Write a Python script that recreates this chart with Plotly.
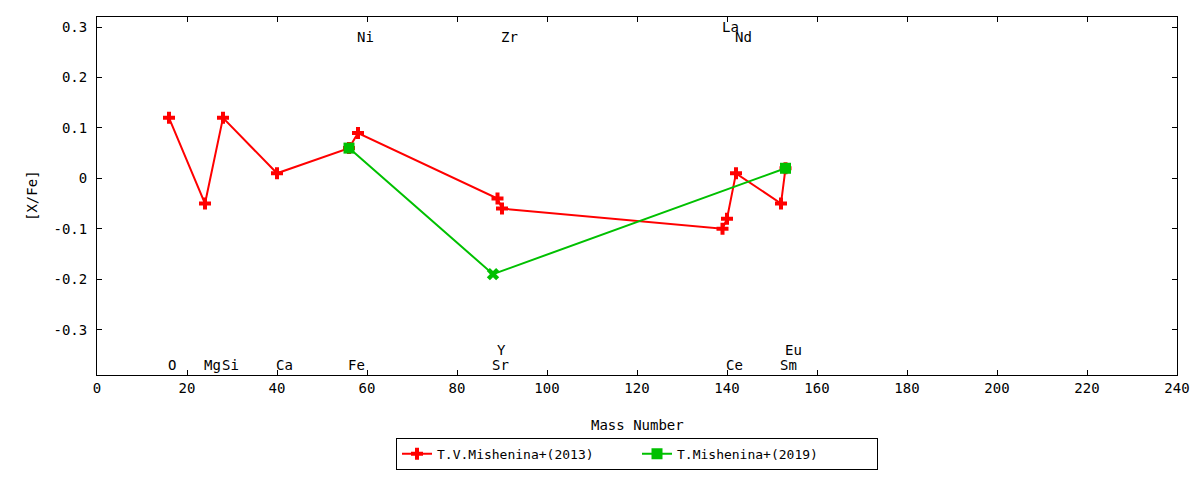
import plotly.graph_objects as go

# [X/Fe] vs mass number
mass_2013 = [16, 24, 28, 40, 56, 58, 89, 90, 139, 140, 142, 152, 153]
xfe_2013 = [0.12, -0.05, 0.12, 0.01, 0.06, 0.09, -0.04, -0.06, -0.10, -0.08, 0.01, -0.05, 0.02]

mass_2019 = [56, 88, 153]
xfe_2019 = [0.06, -0.19, 0.02]

# element labels (name, mass, label height in [X/Fe] units)
label_names = ['O', 'Mg', 'Si', 'Ca', 'Fe', 'Ni', 'Sr', 'Y', 'Zr', 'La', 'Ce', 'Nd', 'Sm', 'Eu']
label_mass = [16, 24, 28, 40, 56, 58, 88, 89, 90, 139, 140, 142, 152, 153]
label_y = [-0.37, -0.37, -0.37, -0.37, -0.37, 0.28, -0.37, -0.34, 0.28, 0.30, -0.37, 0.28, -0.37, -0.34]

xtick_vals = list(range(0, 241, 20))
ytick_vals = [-0.3, -0.2, -0.1, 0, 0.1, 0.2, 0.3]
ytick_text = ['-0.3', '-0.2', '-0.1', '0', '0.1', '0.2', '0.3']

FONT = 'DejaVu Sans Mono'
FSIZE = 14

fig = go.Figure()

fig.add_trace(go.Scatter(x=mass_2013, y=xfe_2013,
                         mode='lines+markers',
                         name='T.V.Mishenina+(2013)',
                         line=dict(color='#ff0000', width=2),
                         marker=dict(symbol='cross', size=10, color='#ff0000')))

fig.add_trace(go.Scatter(x=mass_2019, y=xfe_2019,
                         mode='lines+markers',
                         name='T.Mishenina+(2019)',
                         line=dict(color='#00c000', width=2),
                         marker=dict(symbol=['square', 'x', 'square'], size=11,
                                     color='#00c000')))

for name, m, yy in zip(label_names, label_mass, label_y):
    fig.add_annotation(x=m, y=yy, text=name, showarrow=False,
                       xanchor='left', yanchor='middle', xshift=-3,
                       font=dict(family=FONT, size=FSIZE, color='black'))

# axis titles
fig.add_annotation(xref='paper', yref='paper', x=0.5, y=0, yshift=-50,
                   text='Mass Number', showarrow=False,
                   xanchor='center', yanchor='middle',
                   font=dict(family=FONT, size=FSIZE, color='black'))
fig.add_annotation(xref='paper', yref='paper', x=0, y=0.5, xshift=-65,
                   text='[X/Fe]', showarrow=False, textangle=-90,
                   xanchor='center', yanchor='middle',
                   font=dict(family=FONT, size=FSIZE, color='black'))

axis_common = dict(showline=True, linecolor='black', linewidth=1,
                   mirror='ticks', ticks='inside', ticklen=5,
                   tickcolor='black', showgrid=False, zeroline=False,
                   automargin=False,
                   tickfont=dict(family=FONT, size=FSIZE, color='black'))

fig.update_xaxes(range=[0, 240], tickvals=xtick_vals, **axis_common)
fig.update_yaxes(range=[-0.39, 0.32], tickvals=ytick_vals, ticktext=ytick_text,
                 ticklabelstandoff=6, **axis_common)

# page body has an 8px margin, so the figure is a bit smaller than the window
fig.update_layout(width=1184, height=464,
                  margin=dict(l=89, r=15, t=9, b=97, autoexpand=False),
                  plot_bgcolor='white', paper_bgcolor='white',
                  font=dict(family=FONT, size=FSIZE, color='black'),
                  legend=dict(orientation='h', x=0.5, xanchor='center',
                              y=-0.265, yanchor='bottom',
                              entrywidth=195, tracegroupgap=0,
                              bordercolor='black', borderwidth=1,
                              font=dict(family=FONT, size=13)))

fig.write_html("out.html")
